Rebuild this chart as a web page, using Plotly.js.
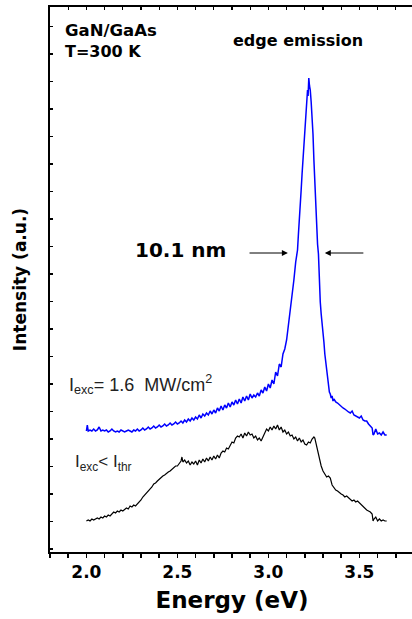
<!DOCTYPE html>
<html>
<head>
<meta charset="utf-8">
<script src="https://cdn.plot.ly/plotly-3.0.1.min.js"></script>
<style>
html,body{margin:0;padding:0;overflow:hidden;background:#fff;}
#chart{width:416px;height:619px;}
</style>
</head>
<body>
<div id="chart"></div>
<script>
// Blue spectrum: I_exc = 1.6 MW/cm^2 (energy eV, intensity a.u.)
const blueE = [2.000,2.005,2.010,2.020,2.030,2.040,2.050,2.060,2.070,2.080,2.090,2.100,2.110,2.120,2.130,2.140,2.150,2.160,2.170,2.180,2.190,2.200,2.210,2.220,2.230,2.240,2.250,2.260,2.270,2.280,2.290,2.300,2.310,2.320,2.330,2.340,2.350,2.360,2.370,2.380,2.390,2.400,2.410,2.420,2.430,2.440,2.450,2.460,2.470,2.480,2.490,2.500,2.510,2.520,2.530,2.540,2.550,2.560,2.570,2.580,2.590,2.600,2.610,2.620,2.630,2.640,2.650,2.660,2.670,2.680,2.690,2.700,2.710,2.720,2.730,2.740,2.750,2.760,2.770,2.780,2.790,2.800,2.810,2.820,2.830,2.840,2.850,2.860,2.870,2.880,2.890,2.900,2.910,2.920,2.930,2.940,2.950,2.960,2.970,2.980,2.990,3.000,3.010,3.020,3.030,3.040,3.050,3.060,3.070,3.080,3.090,3.100,3.110,3.115,3.120,3.130,3.135,3.140,3.150,3.155,3.160,3.165,3.170,3.175,3.180,3.185,3.190,3.195,3.200,3.205,3.210,3.215,3.218,3.222,3.226,3.230,3.235,3.240,3.245,3.250,3.255,3.260,3.265,3.270,3.275,3.280,3.285,3.290,3.295,3.300,3.305,3.310,3.315,3.320,3.325,3.330,3.335,3.340,3.345,3.350,3.355,3.360,3.370,3.380,3.390,3.400,3.410,3.420,3.430,3.440,3.450,3.460,3.470,3.480,3.490,3.500,3.510,3.520,3.530,3.540,3.550,3.560,3.570,3.575,3.580,3.590,3.600,3.610,3.620,3.630,3.640,3.650];
const blueI = [121,127,121,122,121,123,121,122,125,121,122,121,122,120,121,123,121,120,121,120,122,121,120,121,122,121,120,122,121,123,121,122,124,122,123,125,123,124,126,124,125,127,125,126,128,126,127,129,127,128,130,128,129,131,129,132,130,133,131,134,132,135,133,137,134,138,136,139,137,141,138,142,139,144,141,146,142,147,144,149,145,150,147,152,148,153,149,155,151,156,152,158,154,157,155,159,156,162,159,165,161,168,164,172,168,180,176,188,185,198,203,212,226,238,244,258,266,272,290,297,302,318,338,348,362,378,392,404,418,436,448,462,456,474,466,462,450,438,418,392,366,342,322,308,298,268,250,238,230,220,210,198,190,180,172,165,160,158,154,156,151,153,150,149,147,146,144,143,141,140,139,141,137,136,135,134,136,132,131,131,128,126,124,117,118,123,118,119,117,120,117,117];

// Black spectrum: I_exc < I_thr
const blackE = [2.000,2.010,2.020,2.030,2.040,2.050,2.060,2.070,2.080,2.090,2.100,2.110,2.120,2.130,2.140,2.150,2.160,2.170,2.180,2.190,2.200,2.210,2.220,2.230,2.240,2.250,2.260,2.270,2.280,2.290,2.300,2.310,2.320,2.330,2.340,2.350,2.360,2.370,2.380,2.390,2.400,2.410,2.420,2.430,2.440,2.450,2.460,2.470,2.480,2.490,2.500,2.510,2.520,2.525,2.530,2.540,2.550,2.560,2.570,2.580,2.590,2.600,2.610,2.620,2.630,2.640,2.650,2.660,2.670,2.680,2.690,2.700,2.710,2.720,2.730,2.740,2.750,2.760,2.770,2.780,2.790,2.800,2.810,2.820,2.830,2.840,2.850,2.860,2.870,2.880,2.890,2.900,2.910,2.920,2.930,2.940,2.950,2.960,2.970,2.980,2.990,3.000,3.010,3.020,3.030,3.040,3.050,3.060,3.070,3.080,3.090,3.100,3.110,3.120,3.130,3.140,3.150,3.160,3.170,3.180,3.190,3.200,3.210,3.220,3.230,3.240,3.250,3.255,3.260,3.265,3.270,3.275,3.280,3.290,3.300,3.310,3.320,3.330,3.340,3.350,3.360,3.370,3.380,3.390,3.400,3.410,3.420,3.430,3.440,3.450,3.460,3.470,3.480,3.490,3.500,3.510,3.520,3.530,3.540,3.550,3.560,3.570,3.575,3.580,3.590,3.600,3.610,3.620,3.630,3.640,3.650];
const blackI = [31,32,31,33,32,33,34,33,35,34,36,35,37,36,38,40,39,41,40,42,41,43,44,43,46,45,47,46,48,49,52,55,57,59,61,62,65,68,69,71,73,74,76,77,79,80,81,83,84,86,86,89,91,95,90,92,89,91,87,90,88,91,87,92,89,93,90,94,91,95,92,96,93,97,94,99,101,100,104,103,107,110,109,114,116,115,118,114,119,116,120,117,118,114,116,112,114,111,115,120,123,121,125,122,126,123,127,122,125,120,122,118,120,116,117,113,115,111,114,110,112,108,107,110,109,113,115,114,110,104,100,96,92,86,81,78,75,76,74,67,64,62,61,59,58,57,55,56,54,53,51,52,50,51,49,47,46,44,42,41,40,38,31,33,35,31,33,31,32,31,31];

const xTickVals = [2.0, 2.5, 3.0, 3.5];
const xTickText = ['2.0', '2.5', '3.0', '3.5'];

const traces = [
  {x: blueE, y: blueI, type: 'scatter', mode: 'lines', line: {color: '#0000ff', width: 1.5}, hoverinfo: 'skip'},
  {x: blackE, y: blackI, type: 'scatter', mode: 'lines', line: {color: '#000000', width: 1.2}, hoverinfo: 'skip'},
  {x: [blueE[0]], y: [blueI[0]], xaxis: 'x2', type: 'scatter', mode: 'markers', marker: {opacity: 0}, hoverinfo: 'skip'}
];

const boldFont = {family: 'DejaVu Sans, Verdana, sans-serif', color: '#000', weight: 'bold'};

const layout = {
  width: 416, height: 619,
  margin: {l: 50, r: 2, t: 7, b: 67},
  paper_bgcolor: '#fff', plot_bgcolor: '#fff',
  showlegend: false,
  xaxis: {
    range: [1.8, 3.8], showgrid: false, zeroline: false,
    showline: true, linecolor: '#000', linewidth: 2, mirror: true,
    ticks: 'outside', ticklen: 4, tickwidth: 1.5, tickcolor: '#000',
    tickvals: xTickVals, ticktext: xTickText,
    minor: {dtick: 0.1, tick0: 0, ticks: 'outside', ticklen: 4, tickwidth: 1.5, tickcolor: '#000', showgrid: false},
    tickfont: Object.assign({size: 17}, boldFont),
    title: {text: 'Energy (eV)', font: Object.assign({size: 23}, boldFont), standoff: 10}
  },
  xaxis2: {
    overlaying: 'x', side: 'top', range: [1.8, 3.8], showgrid: false, zeroline: false,
    showline: false, ticks: 'inside', ticklen: 3, tickwidth: 1.2, tickcolor: '#000',
    dtick: 0.1, tick0: 0, showticklabels: false
  },
  yaxis: {
    range: [0, 545], showgrid: false, zeroline: false,
    showline: true, linecolor: '#000', linewidth: 2, mirror: true,
    ticks: 'inside', ticklen: 3, tickwidth: 1.2, tickcolor: '#000',
    tick0: 3, dtick: 27.5, showticklabels: false,
    title: {text: 'Intensity (a.u.)', font: Object.assign({size: 17}, boldFont), standoff: 17}
  },
  annotations: [
    {x: 1.874, y: 522, xref: 'x', yref: 'y', xanchor: 'left', yanchor: 'middle', showarrow: false,
     text: 'GaN/GaAs', font: Object.assign({size: 16.5}, boldFont)},
    {x: 1.874, y: 501, xref: 'x', yref: 'y', xanchor: 'left', yanchor: 'middle', showarrow: false,
     text: 'T=300 K', font: Object.assign({size: 16}, boldFont)},
    {x: 3.16, y: 512, xref: 'x', yref: 'y', xanchor: 'center', yanchor: 'middle', showarrow: false,
     text: 'edge emission', font: Object.assign({size: 16}, boldFont)},
    {x: 2.515, y: 302, xref: 'x', yref: 'y', xanchor: 'center', yanchor: 'middle', showarrow: false,
     text: '10.1 nm', font: Object.assign({size: 20}, boldFont)},
    {x: 3.107, y: 299, ax: 2.888, ay: 299, xref: 'x', yref: 'y', axref: 'x', ayref: 'y',
     showarrow: true, arrowhead: 2, arrowsize: 1.2, arrowwidth: 1, arrowcolor: '#000', text: ''},
    {x: 3.31, y: 299, ax: 3.53, ay: 299, xref: 'x', yref: 'y', axref: 'x', ayref: 'y',
     showarrow: true, arrowhead: 2, arrowsize: 1.2, arrowwidth: 1, arrowcolor: '#000', text: ''},
    {x: 1.896, y: 168, xref: 'x', yref: 'y', xanchor: 'left', yanchor: 'middle', showarrow: false,
     text: 'I<sub>exc</sub>= 1.6  MW/cm<sup>2</sup>',
     font: {family: 'Liberation Sans, Arial, sans-serif', size: 18, color: '#222'}},
    {x: 1.929, y: 89, xref: 'x', yref: 'y', xanchor: 'left', yanchor: 'middle', showarrow: false,
     text: 'I<sub>exc</sub>< I<sub>thr</sub>',
     font: {family: 'Liberation Sans, Arial, sans-serif', size: 17, color: '#222'}}
  ]
};

Plotly.newPlot('chart', traces, layout, {staticPlot: true, displayModeBar: false});
</script>
</body>
</html>
